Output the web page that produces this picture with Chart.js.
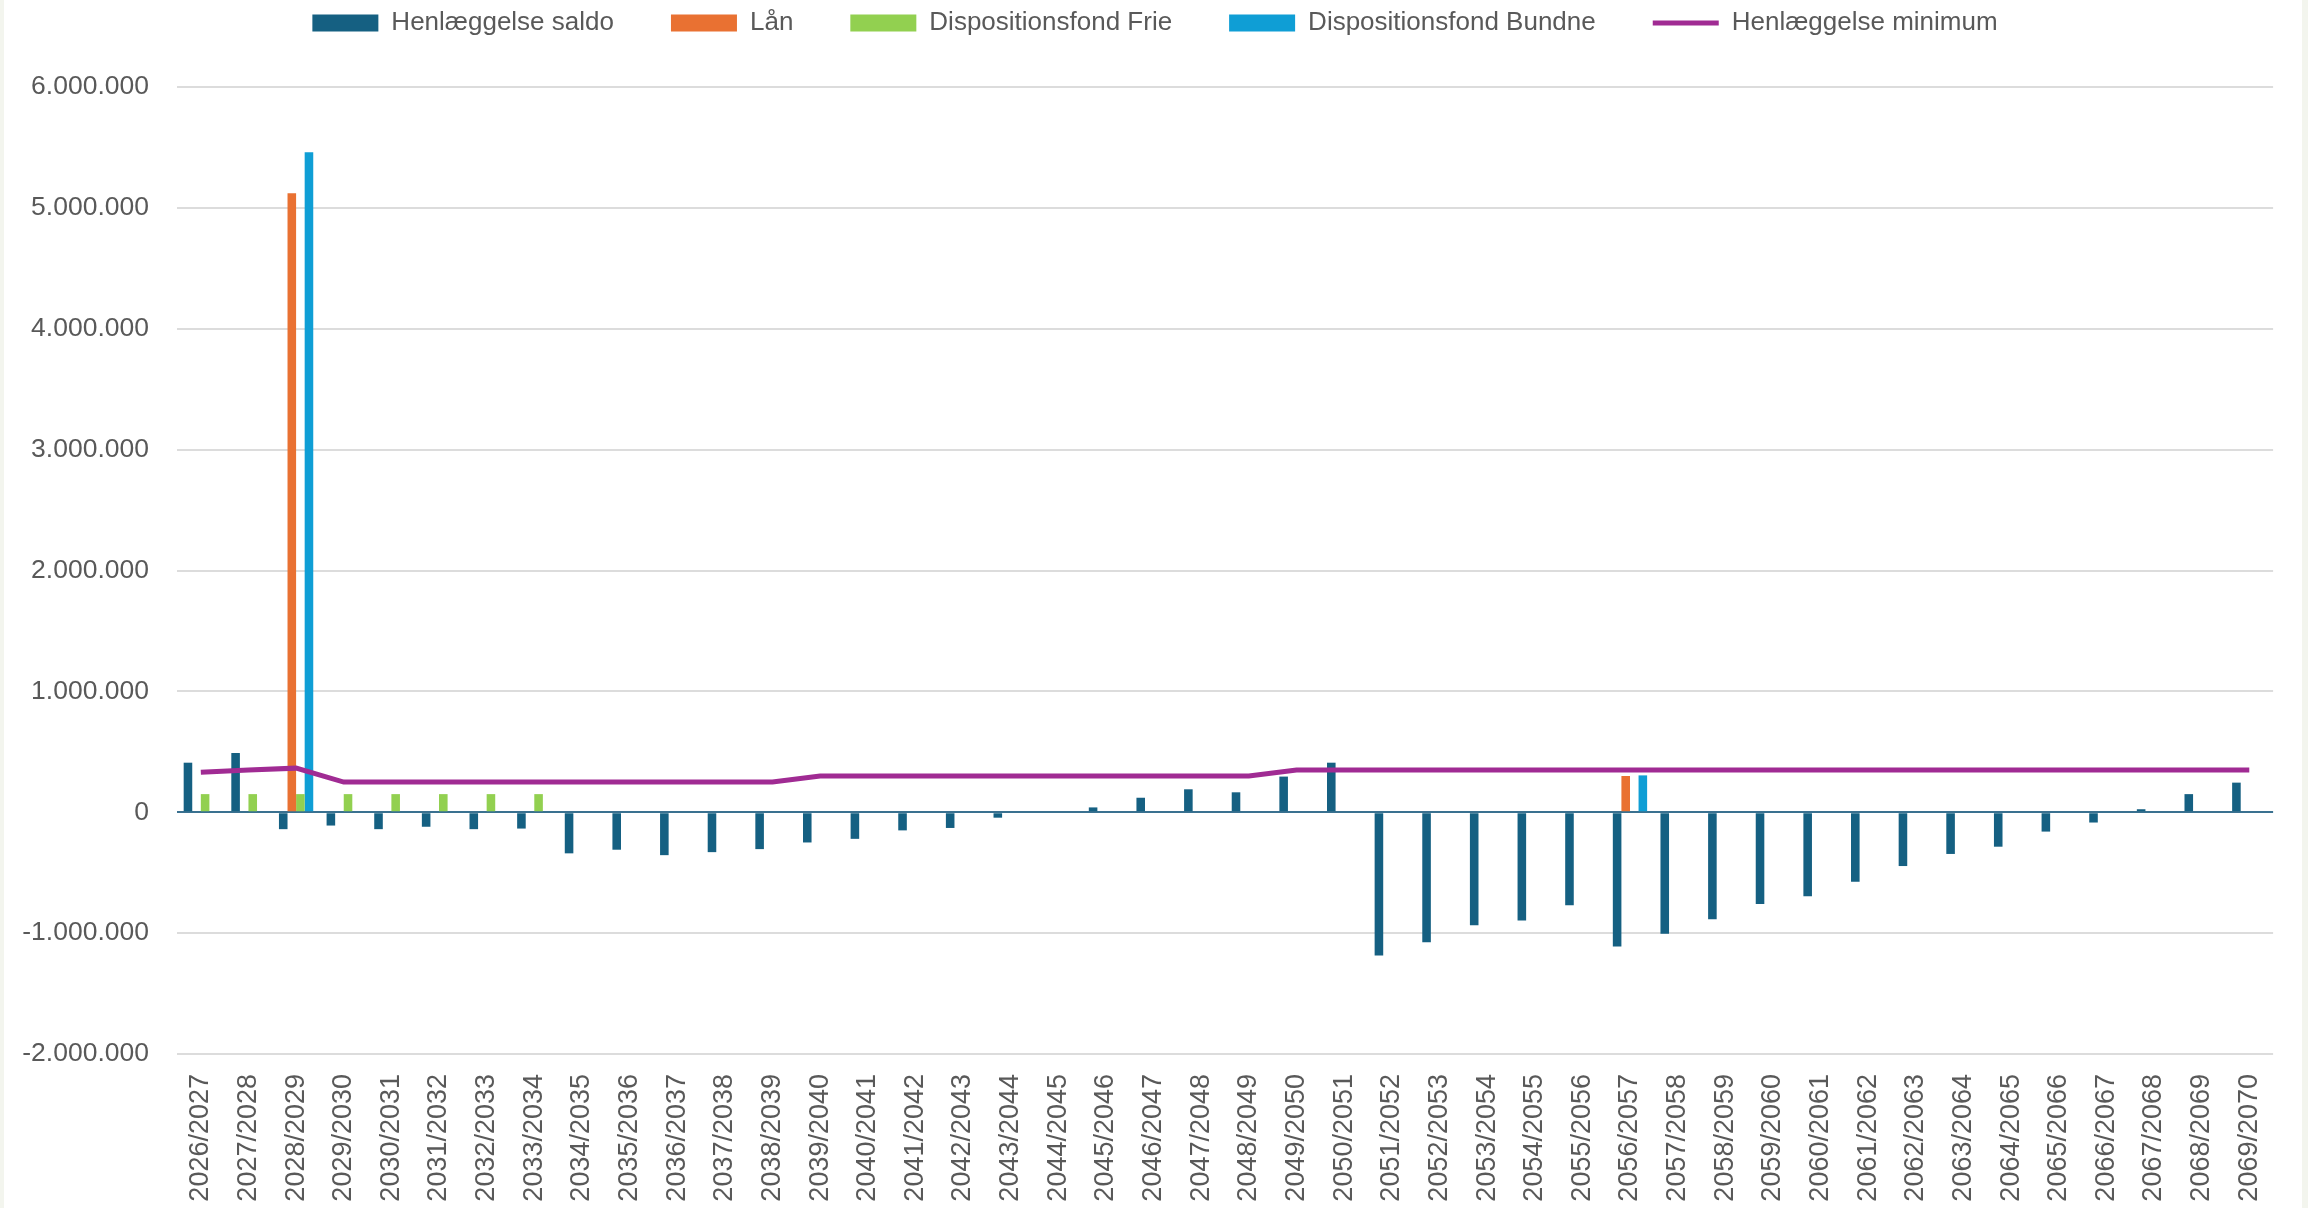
<!DOCTYPE html>
<html>
<head>
<meta charset="utf-8">
<script src="https://cdn.jsdelivr.net/npm/chart.js@4.4.1/dist/chart.umd.min.js"></script>
<style>
  html, body { margin: 0; padding: 0; background: #f3f5ee; }
  #wrap { position: absolute; left: 4px; top: 0; width: 2298px; height: 1208px; background: #fff; }
</style>
</head>
<body>
<div id="wrap"><canvas id="canvas" width="2298" height="1208"></canvas></div>
<script>
const labels = ['2026/2027', '2027/2028', '2028/2029', '2029/2030', '2030/2031', '2031/2032', '2032/2033', '2033/2034',
  '2034/2035', '2035/2036', '2036/2037', '2037/2038', '2038/2039', '2039/2040', '2040/2041', '2041/2042',
  '2042/2043', '2043/2044', '2044/2045', '2045/2046', '2046/2047', '2047/2048', '2048/2049', '2049/2050',
  '2050/2051', '2051/2052', '2052/2053', '2053/2054', '2054/2055', '2055/2056', '2056/2057', '2057/2058',
  '2058/2059', '2059/2060', '2060/2061', '2061/2062', '2062/2063', '2063/2064', '2064/2065', '2065/2066',
  '2066/2067', '2067/2068', '2068/2069', '2069/2070']

const saldo = [410000, 490000, -140000, -110000, -140000, -120000, -140000, -135000,
  -340000, -310000, -355000, -330000, -305000, -250000, -220000, -150000,
  -130000, -45000, 0, 40000, 120000, 190000, 165000, 295000,
  410000, -1185000, -1075000, -935000, -895000, -770000, -1110000, -1005000,
  -885000, -760000, -695000, -575000, -445000, -345000, -285000, -160000,
  -85000, 25000, 150000, 245000]

const laan = [null, null, 5120000, null, null, null, null, null,
  null, null, null, null, null, null, null, null,
  null, null, null, null, null, null, null, null,
  null, null, null, null, null, null, 300000, null,
  null, null, null, null, null, null, null, null,
  null, null, null, null]

const frie = [150000, 150000, 150000, 150000, 150000, 150000, 150000, 150000,
  null, null, null, null, null, null, null, null,
  null, null, null, null, null, null, null, null,
  null, null, null, null, null, null, null, null,
  null, null, null, null, null, null, null, null,
  null, null, null, null]

const bundne = [null, null, 5460000, null, null, null, null, null,
  null, null, null, null, null, null, null, null,
  null, null, null, null, null, null, null, null,
  null, null, null, null, null, null, 305000, null,
  null, null, null, null, null, null, null, null,
  null, null, null, null]

const minimum = [330000, 350000, 365000, 250000, 250000, 250000, 250000, 250000,
  250000, 250000, 250000, 250000, 250000, 300000, 300000, 300000,
  300000, 300000, 300000, 300000, 300000, 300000, 300000, 350000,
  350000, 350000, 350000, 350000, 350000, 350000, 350000, 350000,
  350000, 350000, 350000, 350000, 350000, 350000, 350000, 350000,
  350000, 350000, 350000, 350000]

const yMin = -2000000
const yMax = 6000000
const yStep = 1000000

// 1.000.000 style
function fmt(v) {
  return (v < 0 ? '-' : '') + String(Math.abs(v)).replace(/\B(?=(\d{3})+(?!\d))/g, '.')
}

Chart.defaults.font.family = "'Liberation Sans', Arial, sans-serif"
Chart.defaults.color = '#595959'

const legendPad = 57

// legend gets a fixed block at the top, items pulled up to the first row
const legendBox = {
  id: 'legendBox',
  beforeInit(chart) {
    const fit = chart.legend.fit
    chart.legend.fit = function () {
      fit.call(this)
      this.height = 87
    }
  },
  afterLayout(chart) {
    chart.legend.top = 10 - legendPad
    chart.legend.left += 16
    chart.legend.right += 16
  },
}

const bar = (label, data, color) => ({
  type: 'bar',
  label: label,
  data: data,
  backgroundColor: color,
  borderWidth: 0,
  pointStyle: 'rect',
  categoryPercentage: 0.72,
  barPercentage: 1.0,
  order: 1,
})

const data = {
  labels: labels,
  datasets: [
    bar('Henlæggelse saldo', saldo, '#156082'),
    bar('Lån', laan, '#E97132'),
    bar('Dispositionsfond Frie', frie, '#92D050'),
    bar('Dispositionsfond Bundne', bundne, '#0F9ED5'),
    {
      type: 'line',
      label: 'Henlæggelse minimum',
      data: minimum,
      borderColor: '#A02B93',
      backgroundColor: '#A02B93',
      borderWidth: 5,
      pointRadius: 0,
      pointStyle: 'line',
      tension: 0,
      order: 0,
    },
  ],
}

const config = {
  type: 'bar',
  data: data,
  plugins: [legendBox],
  options: {
    responsive: false,
    animation: false,
    layout: { padding: { left: 0, right: 28, top: 0, bottom: 0 } },
    plugins: {
      tooltip: { enabled: false },
      legend: {
        position: 'top',
        labels: {
          font: { size: 26 },
          color: '#595959',
          usePointStyle: true,
          pointStyleWidth: 66,
          boxHeight: 17,
          padding: legendPad,
          sort: (a, b) => a.datasetIndex - b.datasetIndex,
        },
      },
    },
    scales: {
      x: {
        grid: { display: false, drawTicks: false },
        border: { display: false },
        ticks: {
          font: { size: 27 },
          color: '#595959',
          minRotation: 90,
          maxRotation: 90,
          autoSkip: false,
          padding: 20,
        },
        afterFit(scale) { scale.height = 154 },
      },
      y: {
        min: yMin,
        max: yMax,
        grid: {
          drawTicks: false,
          lineWidth: 2,
          color: ctx => (ctx.tick && ctx.tick.value === 0 ? '#3a7190' : '#dcdcdc'),
        },
        border: { display: false },
        ticks: {
          stepSize: yStep,
          font: { size: 26.5 },
          color: '#595959',
          padding: 28,
          callback: v => fmt(v),
        },
        afterFit(scale) { scale.width = 173 },
      },
    },
  },
}

const canvas = document.getElementById('canvas')
const chart = new Chart(canvas, config)
</script>
</body>
</html>
